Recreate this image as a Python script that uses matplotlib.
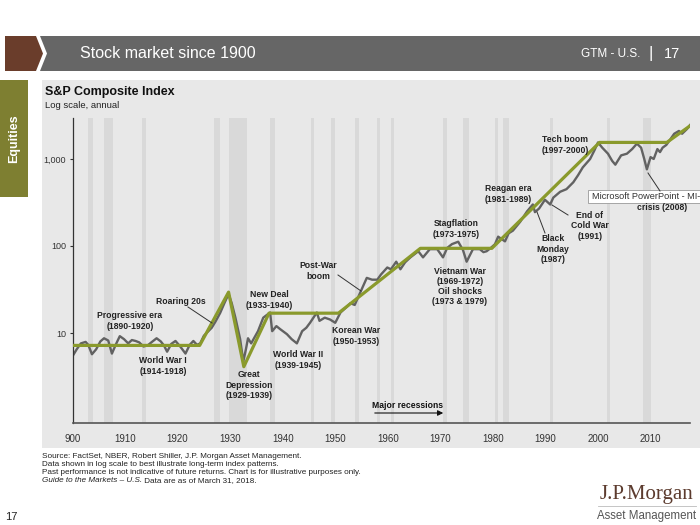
import matplotlib
matplotlib.use('Agg')
import matplotlib.pyplot as plt
from matplotlib.patches import Polygon, Rectangle

# --- data ---
sp_year = [1900.0, 1900.8, 1901.6, 1902.5, 1903.0, 1903.7, 1904.5, 1905.3, 1906.0, 1906.8,
           1907.5, 1908.3, 1909.0, 1909.8, 1910.6, 1911.3, 1912.0, 1912.7, 1913.5, 1914.3,
           1915.0, 1916.0, 1916.8, 1917.4, 1918.0, 1918.8, 1919.6, 1920.5, 1921.5, 1922.3,
           1923.0, 1923.7, 1924.3, 1925.0, 1925.8, 1926.5, 1927.2, 1928.1, 1928.9, 1929.7,
           1930.3, 1931.0, 1931.9, 1932.5, 1933.0, 1933.4, 1934.0, 1935.3, 1936.3, 1937.6,
           1938.0, 1938.8, 1939.5, 1940.8, 1941.7, 1942.7, 1943.7, 1944.5, 1945.2, 1946.5,
           1947.0, 1948.0, 1949.0, 1950.0, 1951.0, 1952.0, 1952.9, 1953.7, 1954.8, 1956.0,
           1957.0, 1958.0, 1958.7, 1959.9, 1960.6, 1961.6, 1962.4, 1963.3, 1964.3, 1965.8,
           1966.7, 1968.0, 1969.4, 1970.5, 1971.3, 1972.2, 1973.4, 1974.3, 1975.0, 1976.2,
           1977.5, 1978.2, 1978.8, 1979.6, 1980.4, 1981.0, 1982.3, 1983.0, 1983.8, 1985.2,
           1986.5, 1987.6, 1988.0, 1988.8, 1989.9, 1990.9, 1991.5, 1992.8, 1994.0, 1995.3,
           1996.2, 1997.1, 1998.5, 1999.3, 2000.0, 2000.8, 2001.9, 2002.7, 2003.3, 2004.4,
           2005.5, 2006.5, 2007.4, 2008.2, 2008.8, 2009.3, 2010.0, 2010.6, 2011.3, 2011.8,
           2012.3, 2013.0, 2013.7, 2014.5, 2015.4, 2016.0, 2016.9, 2017.5]
sp_value = [5.4, 6.5, 7.6, 7.9, 7.3, 5.7, 6.5, 8.0, 8.7, 8.2,
            5.8, 7.5, 9.2, 8.5, 7.6, 8.3, 8.1, 7.8, 7.0, 7.2,
            7.8, 8.7, 8.0, 7.2, 6.1, 7.5, 8.1, 7.0, 5.8, 7.3,
            8.1, 7.3, 7.6, 9.3, 10.4, 11.5, 13.5, 17.0, 22.0, 28.0,
            22.0, 15.0, 8.5, 4.7, 6.5, 8.7, 7.6, 10.5, 15.0, 17.2,
            10.5, 12.0, 11.1, 9.7, 8.5, 7.6, 10.5, 11.5, 13.1, 17.2,
            13.8, 15.0, 14.3, 13.1, 17.2, 19.5, 22.0, 21.0, 29.5, 43.0,
            41.0, 41.0, 47.0, 56.6, 54.0, 66.0, 54.0, 65.0, 74.0, 87.0,
            74.0, 92.0, 92.0, 74.0, 95.0, 105.0, 112.0, 90.0, 66.0, 92.0,
            92.0, 85.0, 87.0, 95.0, 105.0, 128.0, 113.0, 140.0, 150.0, 190.0,
            250.0, 300.0, 245.0, 270.0, 340.0, 300.0, 360.0, 420.0, 450.0, 540.0,
            650.0, 800.0, 1000.0, 1250.0, 1550.0, 1350.0, 1150.0, 950.0, 860.0, 1100.0,
            1150.0, 1300.0, 1500.0, 1350.0, 1000.0, 760.0, 1050.0, 1000.0, 1300.0, 1200.0,
            1350.0, 1450.0, 1660.0, 1950.0, 2100.0, 1950.0, 2200.0, 2450.0]

trend_year = [1900, 1924.2, 1929.7, 1932.6, 1937.4, 1950.6, 1966.2, 1979.8, 2000.3, 2013.1, 2017.9]
trend_value = [7.2, 7.2, 29.5, 4.1, 16.9, 16.9, 94, 94, 1550, 1550, 2500]

recession_start = [1902.9, 1906.0, 1913.2, 1926.9, 1929.8, 1937.6, 1945.4, 1949.2, 1953.8, 1958.0,
                   1960.6, 1970.5, 1974.3, 1980.4, 1981.9, 1990.9, 2001.7, 2008.6]
recession_end = [1903.9, 1907.7, 1914.0, 1928.1, 1933.2, 1938.5, 1946.0, 1950.0, 1954.6, 1958.6,
                 1961.2, 1971.3, 1975.5, 1980.9, 1983.0, 1991.4, 2002.3, 2010.1]

xticks = [1900, 1910, 1920, 1930, 1940, 1950, 1960, 1970, 1980, 1990, 2000, 2010]
xtick_labels = ['900', '1910', '1920', '1930', '1940', '1950', '1960', '1970', '1980', '1990', '2000', '2010']
yticks = [10, 100, 1000]
ytick_labels = ['10', '100', '1,000']

plt.rcParams['font.family'] = ['Liberation Sans', 'DejaVu Sans']

W, H = 700, 525
fig = plt.figure(figsize=(7, 5.25), dpi=100)

# background layer in pixel coords
bg = fig.add_axes([0, 0, 1, 1], zorder=0)
bg.set_xlim(0, W)
bg.set_ylim(H, 0)
bg.axis('off')
bg.add_patch(Rectangle((42, 80), W - 42, 368, color='#e8e8e8', lw=0))
bg.add_patch(Rectangle((0, 80), 28, 117, color='#7e7f31', lw=0))
bg.add_patch(Polygon([(5, 36), (36, 36), (43, 53.5), (36, 71), (5, 71)], color='#6a3d2b', lw=0))
bg.add_patch(Polygon([(40, 36), (W, 36), (W, 71), (40, 71), (47, 53.5)], color='#666666', lw=0))

# chart axes
x0, x1 = 72.5, 690
y_top, y_bot = 118, 423
ax = fig.add_axes([x0 / W, (H - y_bot) / H, (x1 - x0) / W, (y_bot - y_top) / H], zorder=1)
ax.set_facecolor('none')
ax.set_yscale('log')
ax.set_xlim(1900, 1900 + (x1 - x0) / 5.255)
ax.set_ylim(0.924, 2958)
for s, e in zip(recession_start, recession_end):
    ax.axvspan(s, e, color='#d9d9d9', lw=0, zorder=0)
ax.plot(sp_year, sp_value, color='#626262', lw=1.7, zorder=2)
ax.plot(trend_year, trend_value, color='#8a9a2c', lw=2.3, zorder=3, solid_capstyle='butt')
for side in ['top', 'right']:
    ax.spines[side].set_visible(False)
ax.spines['left'].set_color('#333333')
ax.spines['bottom'].set_color('#555555')
ax.spines['left'].set_linewidth(0.9)
ax.spines['bottom'].set_linewidth(1.2)
ax.set_xticks(xticks)
ax.set_xticklabels(xtick_labels)
ax.set_yticks(yticks)
ax.set_yticklabels(ytick_labels)
ax.yaxis.set_minor_locator(matplotlib.ticker.NullLocator())
ax.tick_params(axis='x', length=0, pad=8, labelsize=7, labelcolor='#333333')
ax.tick_params(axis='y', length=2.5, width=0.8, color='#333333', pad=2, labelsize=6.5, labelcolor='#333333')

# top layer: text and leaders in pixel coords
top = fig.add_axes([0, 0, 1, 1], zorder=2)
top.set_facecolor('none')
top.set_xlim(0, W)
top.set_ylim(H, 0)
top.axis('off')

top.text(80, 53.5, 'Stock market since 1900', color='white', fontsize=11.5, va='center', ha='left')
top.text(640, 54, 'GTM - U.S.', color='white', fontsize=8.5, va='center', ha='right')
top.text(651, 53.5, '|', color='white', fontsize=12, va='center', ha='center')
top.text(680, 54, '17', color='white', fontsize=10.5, va='center', ha='right')
top.text(14, 139, 'Equities', color='white', fontsize=9, rotation=90, va='center', ha='center', weight='bold')

top.text(45, 92, 'S&P Composite Index', fontsize=9, weight='bold', color='#111111', va='center')
top.text(45, 105, 'Log scale, annual', fontsize=6.8, color='#222222', va='center')

notes = [
    ('Progressive era\n(1890-1920)', 130, 321),
    ('Roaring 20s', 181, 302),
    ('World War I\n(1914-1918)', 163, 366),
    ('New Deal\n(1933-1940)', 269, 300),
    ('Great\nDepression\n(1929-1939)', 249, 385),
    ('World War II\n(1939-1945)', 298, 360),
    ('Korean War\n(1950-1953)', 356, 336),
    ('Post-War\nboom', 318, 271),
    ('Stagflation\n(1973-1975)', 456, 229),
    ('Vietnam War\n(1969-1972)\nOil shocks\n(1973 & 1979)', 460, 286.5),
    ('Reagan era\n(1981-1989)', 508, 194),
    ('Black\nMonday\n(1987)', 553, 249),
    ('End of\nCold War\n(1991)', 590, 226),
    ('Tech boom\n(1997-2000)', 565, 145),
    ('crisis (2008)', 662, 208),
]
for txt, x, y in notes:
    top.text(x, y, txt, fontsize=6.2, weight='bold', color='#222222', ha='center', va='center', linespacing=1.15)

leaders = [((188, 307), (212, 323)), ((338, 275), (361, 291)), ((545, 233), (537, 212)),
           ((568, 215), (552, 205)), ((660, 191), (648, 173))]
for (ax_, ay_), (bx_, by_) in leaders:
    top.plot([ax_, bx_], [ay_, by_], color='#333333', lw=0.7)

top.add_patch(Rectangle((588, 190), 115, 13, facecolor='white', edgecolor='#999999', lw=0.6))
top.text(592, 196.5, 'Microsoft PowerPoint - MI-', fontsize=6.6, color='#333333', va='center', ha='left')

top.text(407, 406, 'Major recessions', fontsize=6.2, weight='bold', color='#111111', ha='center', va='center')
top.annotate('', xy=(446, 413), xytext=(372, 413),
             arrowprops=dict(arrowstyle='-|>', color='#111111', lw=0.8, mutation_scale=8))

footer = ['Source: FactSet, NBER, Robert Shiller, J.P. Morgan Asset Management.',
          'Data shown in log scale to best illustrate long-term index patterns.',
          'Past performance is not indicative of future returns. Chart is for illustrative purposes only.']
for i, line in enumerate(footer):
    top.text(42, 457 + 8 * i, line, fontsize=5.9, color='#222222', va='center')
t = top.text(42, 481, 'Guide to the Markets \u2013 U.S.', fontsize=5.9, color='#222222', va='center', style='italic')
top.annotate(' Data are as of March 31, 2018.', xycoords=t, xy=(1, 0.5), va='center', fontsize=5.9, color='#222222')

top.text(11, 517, '17', fontsize=8, color='#222222', ha='center', va='center')
top.text(647, 495, 'J.P.Morgan', fontsize=15, family=['Liberation Serif', 'DejaVu Serif'], color='#5c3b2e', ha='center', va='center')
top.plot([598, 696], [506, 506], color='#bbbbbb', lw=0.6)
top.text(647, 516, 'Asset Management', fontsize=8.3, color='#555555', ha='center', va='center')

fig.savefig('out.png', dpi=100)
